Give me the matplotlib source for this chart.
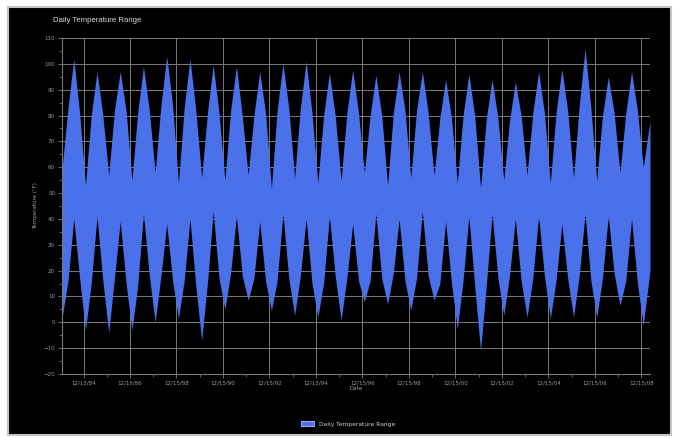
import numpy as np
import matplotlib.pyplot as plt
import matplotlib.dates as mdates
from matplotlib.patches import Rectangle, Patch

# years of winter (mid Jan), spring (mid Apr), summer (mid Jul), fall (mid Oct)
winter_years = list(range(1984, 2010))
summer_years = list(range(1984, 2009))

# daily low / high at the winter trough of each year
winter_low = [2, -3, -4, -3, 0, 1.5, -7, 5, 8.5, 4.6, 2.7, 2, 0.8,
              8, 7, 4.6, 8.5, -2.5, -11, 2.7, 2, 1.5, 2, 2, 6.5, -1]
winter_high = [60, 53, 57, 55, 58, 54, 56, 55, 57, 52, 56, 54, 55,
               58, 53, 56, 57, 54, 52, 55, 57, 54, 56, 55, 58, 60]

# spring (1984-2008) and fall (1984-2008) readings
spring_low = [16, 15, 17, 14, 18, 16, 15, 19, 17, 16, 18, 15, 17,
              16, 19, 17, 15, 16, 14, 18, 17, 16, 18, 17, 16]
spring_high = [83, 80, 82, 81, 84, 83, 81, 82, 80, 82, 83, 80, 81,
               80, 81, 82, 79, 80, 79, 78, 81, 81, 84, 80, 81]
fall_low = [17, 16, 15, 18, 16, 14, 17, 18, 16, 17, 15, 18, 16,
            17, 16, 18, 15, 14, 17, 16, 18, 17, 16, 19, 15]
fall_high = [81, 80, 82, 82, 84, 82, 81, 80, 81, 83, 81, 80, 81,
             80, 82, 81, 79, 80, 79, 80, 81, 82, 83, 81, 82]

# daily low / high at the summer peak of each year
summer_low = [40, 41, 39, 42, 38, 40, 43, 41, 39, 42, 40, 41, 38,
              42, 40, 43, 39, 41, 42, 40, 41, 38, 42, 41, 40]
summer_high = [102, 97, 97, 99, 103, 102, 99.6, 99, 97, 100, 101, 96.5, 97.7,
               95.7, 97, 97, 94, 96, 94, 93, 97, 98, 106, 95, 97]

# last reading at the right edge
end_date = "2009-05-01"
end_low, end_high = 20, 78

tick_dates = ["%d-12-15" % y for y in range(1984, 2009, 2)]
minor_dates = ["%d-12-15" % y for y in range(1985, 2009, 2)]

BLUE = "#4a70ea"
GRID = "#7a7a7a"
TXT = "#9a9a9a"


def build_series():
    pts = []
    for y, lo, hi in zip(winter_years, winter_low, winter_high):
        pts.append((np.datetime64("%d-01-15" % y), lo, hi))
    for y, lo, hi in zip(summer_years, spring_low, spring_high):
        pts.append((np.datetime64("%d-04-15" % y), lo, hi))
    for y, lo, hi in zip(summer_years, summer_low, summer_high):
        pts.append((np.datetime64("%d-07-15" % y), lo, hi))
    for y, lo, hi in zip(summer_years, fall_low, fall_high):
        pts.append((np.datetime64("%d-10-15" % y), lo, hi))
    pts.append((np.datetime64(end_date), end_low, end_high))
    pts.sort(key=lambda p: p[0])
    d = np.array([p[0] for p in pts], dtype="datetime64[D]")
    lo = np.array([p[1] for p in pts], dtype=float)
    hi = np.array([p[2] for p in pts], dtype=float)
    return d, lo, hi


def main():
    dates, lows, highs = build_series()

    fig = plt.figure(figsize=(6.75, 4.38), dpi=100)
    fig.patch.set_facecolor("white")
    fig.patches.append(Rectangle((8 / 675, 3 / 438), 663 / 675, 428 / 438,
                                 transform=fig.transFigure, facecolor="black",
                                 edgecolor="#c4c4c4", linewidth=1.5, zorder=-1))

    ax = fig.add_axes([62 / 675, 64 / 438, 588 / 675, 336 / 438])
    ax.set_facecolor("black")

    ax.fill_between(dates.astype(object), lows, highs,
                    color=BLUE, linewidth=0, zorder=2)

    ax.set_ylim(-20, 110)
    ax.set_yticks(np.arange(-20, 111, 10))
    ax.set_yticks(np.arange(-20, 111, 5), minor=True)
    ax.set_xlim(np.datetime64("1984-01-12").astype(object),
                np.datetime64(end_date).astype(object))
    ax.set_xticks([np.datetime64(t).astype(object) for t in tick_dates])
    ax.set_xticks([np.datetime64(t).astype(object) for t in minor_dates], minor=True)
    ax.xaxis.set_major_formatter(mdates.DateFormatter("%m/%d/%y"))

    ax.grid(True, which="major", color=GRID, linewidth=0.7, zorder=1)
    ax.set_axisbelow(True)
    for s in ["top", "right"]:
        ax.spines[s].set_visible(False)
    for s in ["left", "bottom"]:
        ax.spines[s].set_color(GRID)
        ax.spines[s].set_linewidth(0.8)

    ax.tick_params(which="major", colors=GRID, labelcolor=TXT, labelsize=4,
                   length=3, width=0.6, pad=2)
    ax.tick_params(which="minor", colors=GRID, length=2, width=0.5)

    ax.set_ylabel("Temperature (°F)", color=TXT, fontsize=4, labelpad=4)
    ax.set_xlabel("Date", color=TXT, fontsize=4, labelpad=0)

    fig.text(53 / 675, 1 - 21 / 438, "Daily Temperature Range", color="#dcdcdc",
             fontsize=5.6, family="Liberation Sans", va="center")

    handle = Patch(facecolor=BLUE, edgecolor="#b0c0ff", linewidth=0.6,
                   label="Daily Temperature Range")
    leg = fig.legend(handles=[handle], loc="center", bbox_to_anchor=(348 / 675, 14 / 438),
                     frameon=False, fontsize=4.3, handlelength=2.2, handleheight=1.0)
    for t in leg.get_texts():
        t.set_color("#d0d0d0")

    fig.savefig("out.png", dpi=100, facecolor=fig.get_facecolor())


if __name__ == "__main__":
    main()
